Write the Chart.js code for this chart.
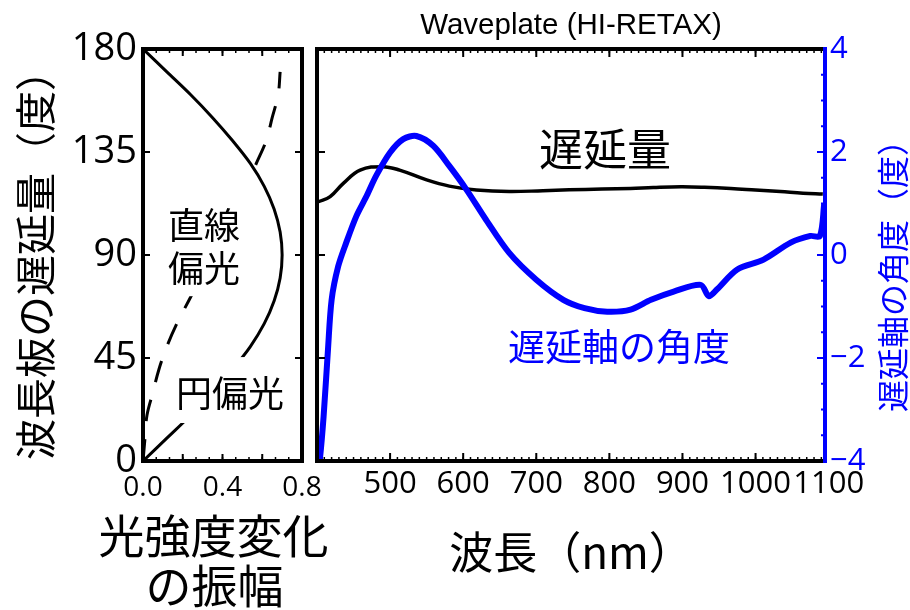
<!DOCTYPE html>
<html><head><meta charset="utf-8">
<script src="https://cdn.jsdelivr.net/npm/chart.js@4/dist/chart.umd.min.js"></script>
<style>
html,body{margin:0;padding:0;background:#fff;overflow:hidden;}
#wrap{position:relative;width:910px;height:610px;}
canvas{position:absolute;left:0;top:0;}
</style></head><body>
<div id="wrap"><canvas id="left" width="910" height="610"></canvas><canvas id="right" width="910" height="610"></canvas></div>
<script>
// ---------- data ----------
// Left panel: amplitude of intensity change vs retardance of the waveplate
const retardLinear = [0,10,20,30,40,50,60,70,80,90,100,110,120,130,140,150,160,170,180];
const ampLinear    = [0,0.12,0.24,0.35,0.45,0.54,0.61,0.66,0.69,0.70,0.69,0.66,0.61,0.54,0.45,0.35,0.24,0.12,0];
const retardCircular = [0,10,20,30,40,50,60,70,80,90,100,110,120,130,140,150,160,170];
const ampCircular    = [0,0.01,0.02,0.05,0.08,0.12,0.17,0.23,0.29,0.35,0.41,0.47,0.52,0.57,0.62,0.65,0.68,0.69];

// Right panel: retardance (deg, left axis) and fast-axis angle (deg, right axis) vs wavelength
const wlRetard  = [402,418,436,459,490,513,550,581,618,663,709,745,790,829,860,898,930,966,1000,1034,1065,1092];
const retardance = [113.3,115.5,121.3,127.1,128.6,127.1,122.8,120.1,118.4,117.7,118.1,118.5,118.8,119.1,119.5,119.8,119.6,119.1,118.4,117.7,117.0,116.6];
const wlAngle   = [402,404,409,415,420,429,440,454,468,481,500,518,536,559,581,604,631,663,700,737,766,797,829,857,888,925,936,947,975,1011,1048,1075,1088,1094];
const axisAngle = [-4.1,-3.96,-3.14,-1.84,-0.87,-0.22,0.24,0.76,1.15,1.54,1.99,2.25,2.31,2.12,1.73,1.28,0.69,0.04,-0.48,-0.87,-1.03,-1.10,-1.06,-0.87,-0.71,-0.58,-0.80,-0.67,-0.28,-0.09,0.24,0.37,0.37,1.0];

// tick labels
const retardTicks = [0,45,90,135,180];
const ampTicks = [0,0.4,0.8];
const wlTicks = [500,600,700,800,900,1000,1100];
const angleTicks = [-4,-2,0,2,4];

// ---------- styling ----------
const CJK = '"Noto Sans CJK JP", "Noto Sans CJK SC", sans-serif';
const NUM = '"Open Sans", "Noto Sans", sans-serif';
const BLUE = '#0000ff';

function range(a, b, s){ const r=[]; for(let v=a; v<=b+1e-9; v+=s) r.push(+v.toFixed(6)); return r; }

const decor = {
  id: 'decor',
  afterDatasetsDraw(chart, args, o) {
    const ctx = chart.ctx;
    ctx.save();
    (o.boxes||[]).forEach(b => {
      const xs = chart.scales[b.xs], ys = chart.scales[b.ys];
      const x0 = xs.getPixelForValue(b.x0), x1 = xs.getPixelForValue(b.x1);
      const y0 = ys.getPixelForValue(b.y0), y1 = ys.getPixelForValue(b.y1);
      ctx.fillStyle = '#fff';
      ctx.fillRect(Math.min(x0,x1), Math.min(y0,y1), Math.abs(x1-x0), Math.abs(y1-y0));
    });
    (o.texts||[]).forEach(t => {
      const xs = chart.scales[t.xs], ys = chart.scales[t.ys];
      ctx.font = t.size + 'px ' + CJK;
      ctx.fillStyle = t.color;
      ctx.textAlign = 'center';
      ctx.textBaseline = 'middle';
      ctx.fillText(t.text, xs.getPixelForValue(t.x), ys.getPixelForValue(t.y));
    });
    ctx.restore();
  },
  afterDraw(chart, args, o) {
    const ctx = chart.ctx, a = chart.chartArea;
    ctx.save();
    // inward tick marks
    (o.ticks||[]).forEach(t => {
      const s = chart.scales[t.scale];
      ctx.strokeStyle = t.color || '#000';
      ctx.lineWidth = t.width || 2;
      ctx.beginPath();
      t.values.forEach(v => {
        const p = s.getPixelForValue(v);
        if (s.isHorizontal()) {
          if (p < a.left - 0.5 || p > a.right + 0.5) return;
          if (t.sides.includes('bottom')) { ctx.moveTo(p, a.bottom); ctx.lineTo(p, a.bottom - t.len); }
          if (t.sides.includes('top')) { ctx.moveTo(p, a.top); ctx.lineTo(p, a.top + t.len); }
        } else {
          if (p < a.top - 0.5 || p > a.bottom + 0.5) return;
          if (t.sides.includes('left')) { ctx.moveTo(a.left, p); ctx.lineTo(a.left + t.len, p); }
          if (t.sides.includes('right')) { ctx.moveTo(a.right, p); ctx.lineTo(a.right - t.len, p); }
        }
      });
      ctx.stroke();
    });
    // frame
    ctx.lineWidth = 4;
    ctx.lineCap = 'square';
    ctx.strokeStyle = '#000';
    ctx.beginPath();
    ctx.moveTo(a.right, a.top); ctx.lineTo(a.left, a.top); ctx.lineTo(a.left, a.bottom); ctx.lineTo(a.right, a.bottom);
    ctx.stroke();
    ctx.strokeStyle = o.rightColor || '#000';
    ctx.beginPath(); ctx.moveTo(a.right, a.top); ctx.lineTo(a.right, a.bottom); ctx.stroke();
    // free text (titles outside the plot)
    (o.labels||[]).forEach(l => {
      ctx.save();
      ctx.font = l.size + 'px ' + CJK;
      ctx.fillStyle = l.color;
      ctx.textAlign = 'center';
      ctx.textBaseline = 'middle';
      ctx.translate(l.x(a), l.y(a));
      if (l.rot) ctx.rotate(l.rot);
      ctx.fillText(l.text, 0, 0);
      ctx.restore();
    });
    ctx.restore();
  }
};

// ---------- left chart ----------
new Chart(document.getElementById('left'), {
  type: 'line',
  data: { datasets: [
    { label: '直線偏光', data: retardLinear.map((d,i)=>({x: ampLinear[i], y: d})),
      borderColor: '#000', borderWidth: 3, pointRadius: 0, tension: 0.35, fill: false },
    { label: '円偏光', data: retardCircular.map((d,i)=>({x: ampCircular[i], y: d})),
      borderColor: '#000', borderWidth: 3, borderDash: [22, 18], pointRadius: 0, tension: 0.35, fill: false }
  ]},
  options: {
    responsive: false, animation: false, events: [],
    layout: { padding: { top: 49, right: 608, left: 0, bottom: 0 } },
    plugins: {
      legend: { display: false }, tooltip: { enabled: false },
      decor: {
        boxes: [
          { xs:'x', ys:'y', x0:0.11, x1:0.553, y0:72, y1:126.3 },
          { xs:'x', ys:'y', x0:0.146, x1:0.72, y0:16.6, y1:45.4 }
        ],
        texts: [
          { xs:'x', ys:'y', x:0.307, y:103.1, text:'直線', size:36, color:'#000' },
          { xs:'x', ys:'y', x:0.307, y:84.3, text:'偏光', size:36, color:'#000' },
          { xs:'x', ys:'y', x:0.438, y:29.7, text:'円偏光', size:36, color:'#000' }
        ],
        ticks: [
          { scale:'x', values: range(0, 0.8, 0.2), len: 7, sides:['top','bottom'], width: 2 },
          { scale:'x', values: range(0, 0.8, 0.2/3), len: 4, sides:['top','bottom'], width: 1.5 },
          { scale:'y', values: retardTicks, len: 7, sides:['left','right'], width: 2 }
        ],
        labels: [
          { text:'光強度変化', size:46, color:'#000', x: a => (a.left+a.right)/2 - 9, y: a => a.bottom + 75 },
          { text:'の振幅', size:46, color:'#000', x: a => (a.left+a.right)/2 - 8, y: a => a.bottom + 125 }
        ]
      }
    },
    scales: {
      x: {
        type: 'linear', min: 0, max: 0.8,
        afterBuildTicks: s => { s.ticks = ampTicks.map(v => ({ value: v })); },
        afterFit: s => { s.height = 149; },
        grid: { display: false, drawTicks: false }, border: { display: false },
        ticks: { font: { family: NUM, size: 28 }, color: '#000', padding: 10, autoSkip: false, maxRotation: 0,
                 callback: v => Number(v).toFixed(1) }
      },
      y: {
        type: 'linear', min: 0, max: 180,
        afterBuildTicks: s => { s.ticks = retardTicks.map(v => ({ value: v })); },
        afterFit: s => { s.width = 143; },
        grid: { display: false, drawTicks: false }, border: { display: false },
        ticks: { font: { family: NUM, size: 38 }, color: '#000', padding: 6, autoSkip: false },
        title: { display: true, text: '波長板の遅延量（度）', color: '#000',
                 font: { family: CJK, size: 41 }, padding: { top: 11, bottom: 0 } }
      }
    }
  },
  plugins: [decor]
});

// ---------- right chart ----------
new Chart(document.getElementById('right'), {
  type: 'line',
  data: { datasets: [
    { label: '遅延軸の角度', data: wlAngle.map((w,i)=>({x: w, y: axisAngle[i]})), yAxisID: 'y1', order: 0,
      borderColor: BLUE, borderWidth: 6, pointRadius: 0, tension: 0.3, fill: false },
    { label: '遅延量', data: wlRetard.map((w,i)=>({x: w, y: retardance[i]})), yAxisID: 'y', order: 1,
      borderColor: '#000', borderWidth: 3.5, pointRadius: 0, tension: 0.4, fill: false }
  ]},
  options: {
    responsive: false, animation: false, events: [],
    layout: { padding: 0 },
    plugins: {
      legend: { display: false }, tooltip: { enabled: false },
      title: { display: true, text: 'Waveplate (HI-RETAX)', fullSize: false, color: '#000',
               font: { family: '"Liberation Sans", Arial, sans-serif', size: 29.5, weight: 'normal', lineHeight: 1.2 },
               padding: { top: 8, bottom: 5.6 } },
      decor: {
        rightColor: BLUE,
        texts: [
          { xs:'x', ys:'y', x:794, y:136, text:'遅延量', size:44, color:'#000' },
          { xs:'x', ys:'y1', x:813, y:-1.79, text:'遅延軸の角度', size:37, color: BLUE }
        ],
        ticks: [
          { scale:'x', values: range(400, 1100, 100), len: 8, sides:['top','bottom'], width: 2 },
          { scale:'x', values: range(400, 1100, 10), len: 4, sides:['top','bottom'], width: 1.5 },
          { scale:'y', values: retardTicks, len: 8, sides:['left'], width: 2 },
          { scale:'y1', values: angleTicks, len: 8, sides:['right'], width: 2, color: BLUE },
          { scale:'y1', values: range(-4, 4, 0.5), len: 4, sides:['right'], width: 2, color: BLUE }
        ],
        labels: [
          { text:'遅延軸の角度（度）', size:32, color: BLUE, rot: -Math.PI/2, x: a => a.right + 68, y: a => (a.top+a.bottom)/2 + 13 }
        ]
      }
    },
    scales: {
      x: {
        type: 'linear', min: 400, max: 1095,
        afterBuildTicks: s => { s.ticks = wlTicks.map(v => ({ value: v })); },
        afterFit: s => { s.height = 149; },
        grid: { display: false, drawTicks: false }, border: { display: false },
        ticks: { font: { family: NUM, size: 31 }, color: '#000', padding: 5, autoSkip: false, maxRotation: 0,
                 callback: v => String(v) },
        title: { display: true, text: '波長（nm）', color: '#000', font: { family: CJK, size: 44 },
                 padding: { top: 0, bottom: 31 } }
      },
      y: {
        type: 'linear', position: 'left', min: 0, max: 180,
        afterFit: s => { s.width = 317; },
        grid: { display: false, drawTicks: false }, border: { display: false },
        ticks: { display: false }
      },
      y1: {
        type: 'linear', position: 'right', min: -4, max: 4,
        afterBuildTicks: s => { s.ticks = angleTicks.map(v => ({ value: v })); },
        afterFit: s => { s.width = 85; },
        grid: { display: false, drawTicks: false }, border: { display: false },
        ticks: { font: { family: NUM, size: 31 }, color: BLUE, padding: 5, autoSkip: false,
                 callback: v => String(v).replace('-', '\u2212') }
      }
    }
  },
  plugins: [decor]
});
</script>
</body></html>
